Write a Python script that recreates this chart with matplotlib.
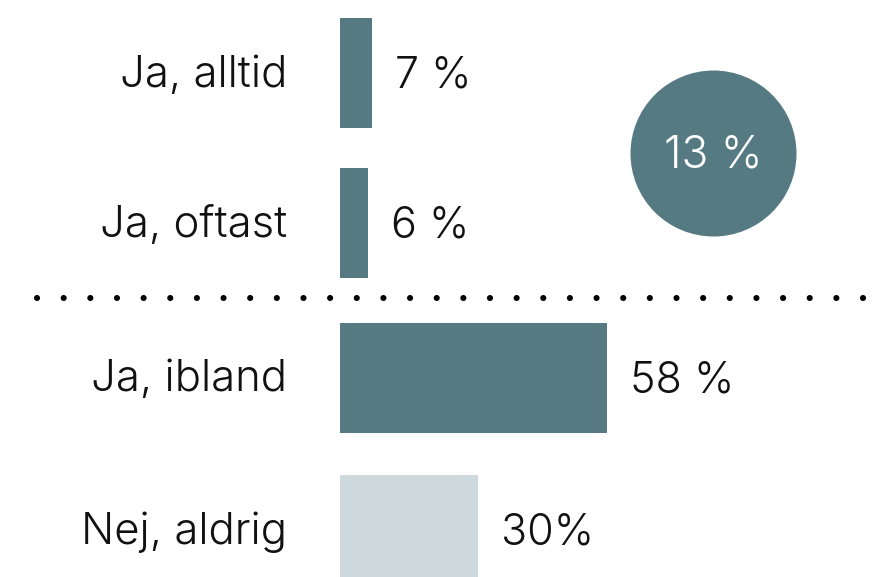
import numpy as np
import matplotlib
matplotlib.use("Agg")
import matplotlib.pyplot as plt

# data
categories = ["Ja, alltid", "Ja, oftast", "Ja, ibland", "Nej, aldrig"]
values = [7, 6, 58, 30]
value_labels = ["7 %", "6 %", "58 %", "30%"]
total_yes_often = values[0] + values[1]

dark = "#557a82"
light = "#cdd9dc"
colors = [dark, dark, dark, light]

plt.rcParams["font.family"] = ["Inter", "DejaVu Sans"]
plt.rcParams["font.weight"] = 300

W, H = 875, 577
fig = plt.figure(figsize=(W / 100, H / 100), dpi=100)
ax = fig.add_axes([0, 0, 1, 1])

px_per = 4.6          # pixels per percent
x0 = 340              # pixel where the bars start
ax.set_xlim(-x0 / px_per, (W - x0) / px_per)
ax.set_ylim(H, 0)
ax.axis("off")

ypos = [73, 223, 378, 530]
bar_h = 110

ax.barh(ypos, values, height=bar_h, color=colors, left=0)

for y, cat, v, lab in zip(ypos, categories, values, value_labels):
    ax.text(-53 / px_per, y + 2, cat, ha="right", va="center", fontsize=31.5, color="#111111")
    ax.text(v + 23 / px_per, y + 3, lab, ha="left", va="center", fontsize=31, color="#111111")

# dotted separator
ax.plot([(37 - x0) / px_per, (866 - x0) / px_per], [298, 298], color="black",
        linewidth=4.4, linestyle=(0, (0.01, 4.35)), dash_capstyle="round")

# circle with the combined share
cx = (713 - x0) / px_per
cy = 153
ax.scatter([cx], [cy], s=(166 * 0.72) ** 2, color=dark, zorder=3, linewidths=0)
ax.text(cx, cy + 2, f"{total_yes_often} %", ha="center", va="center",
        fontsize=32, color="white", zorder=4)

fig.savefig("out.png", dpi=100)
